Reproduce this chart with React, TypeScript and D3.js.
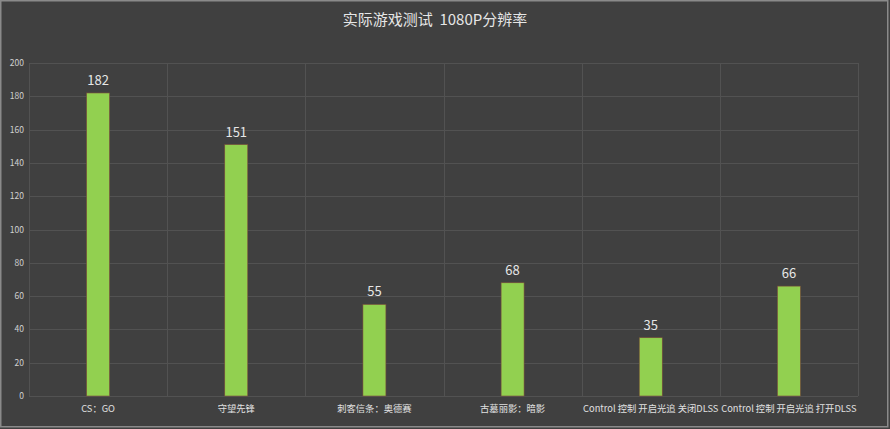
import React from "react";
import * as d3 from "d3";

const categories = ["CS：GO", "守望先锋", "刺客信条：奥德赛", "古墓丽影：暗影", "Control 控制 开启光追 关闭DLSS", "Control 控制 开启光追 打开DLSS"];
const values = [182, 151, 55, 68, 35, 66];
const yTicks = [0, 20, 40, 60, 80, 100, 120, 140, 160, 180, 200];
const title = "实际游戏测试  1080P分辨率";

const W = 890, H = 429;
const left = 29, right = 858, top = 63, bottom = 396;
const FONT = "'Noto Sans CJK SC', 'Noto Sans', sans-serif";

export default function App() {
  const x = d3.scaleBand<string>().domain(categories).range([left, right]);
  const y = d3.scaleLinear().domain([0, 200]).range([bottom, top]);
  const barW = 23;
  return (
    <svg width={W} height={H} style={{ position: "absolute", left: 0, top: 0 }} fontFamily={FONT}>
      <rect x={0} y={0} width={W} height={H} fill="#404040" />
      <rect x={0.75} y={0.75} width={W - 3} height={H - 3} fill="none" stroke="#8a8a8a" strokeWidth={1.5} />
      <text x={435} y={25} textAnchor="middle" fill="#e6e6e6" fontSize={15} style={{ whiteSpace: "pre" }}>{title}</text>
      {yTicks.map((t) => (
        <g key={t}>
          <line x1={left} x2={right} y1={Math.round(y(t)) + 0.5} y2={Math.round(y(t)) + 0.5} stroke="#525252" strokeWidth={1} />
          <text x={24} y={y(t) + 3} textAnchor="end" fill="#d0d0d0" fontSize={8.5}>{t}</text>
        </g>
      ))}
      {categories.map((c, i) => (
        <line key={"v" + i} x1={Math.round(x(c)!) + 0.5} x2={Math.round(x(c)!) + 0.5} y1={top} y2={bottom} stroke="#525252" />
      ))}
      <line x1={right + 0.5} x2={right + 0.5} y1={top} y2={bottom} stroke="#525252" />
      {categories.map((c, i) => {
        const cx = x(c)! + x.bandwidth() / 2;
        return (
          <g key={c}>
            <rect x={cx - barW / 2} y={y(values[i])} width={barW} height={bottom - y(values[i])} fill="#92d050" stroke="#7a4a3a" strokeWidth={0.6} />
            <text x={cx} y={y(values[i]) - 8} textAnchor="middle" fill="#e6e6e6" fontSize={13}>{values[i]}</text>
            <text x={cx} y={412} textAnchor="middle" fill="#e0e0e0" fontSize={9.3}>{c}</text>
          </g>
        );
      })}
    </svg>
  );
}
